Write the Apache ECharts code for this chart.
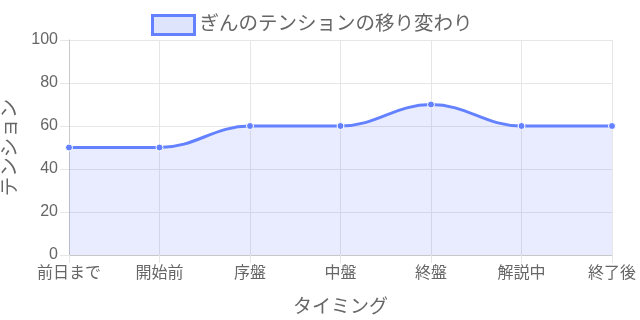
<!DOCTYPE html>
<html><head><meta charset="utf-8">
<script src="https://cdn.jsdelivr.net/npm/echarts@6/dist/echarts.min.js"></script>
<style>html,body{margin:0;padding:0;background:#fff}#c{width:640px;height:320px}</style>
</head><body><div id="c"></div>
<script>
const categories = ['前日まで','開始前','序盤','中盤','終盤','解説中','終了後'];
const tension = [50, 50, 60, 60, 70, 60, 60];
const seriesName = 'ぎんのテンションの移り変わり';
const yTicks = [0, 20, 40, 60, 80, 100];

const font = '"Liberation Sans", "Noto Sans CJK JP", Arial, sans-serif';
const chart = echarts.init(document.getElementById('c'), null, {renderer: 'canvas'});
chart.setOption({
  animation: false,
  textStyle: {fontFamily: font},
  legend: {
    top: 9, left: 146,
    itemWidth: 42, itemHeight: 19, itemGap: 10,
    textStyle: {fontSize: 19.5, color: '#666', fontFamily: font},
    data: [{name: seriesName, icon: 'rect', itemStyle: {color: '#dfe4fd', borderColor: '#6482ff', borderWidth: 3}}]
  },
  grid: {left: 69, right: 28, top: 40, bottom: 65, outerBoundsMode: 'none', containLabel: false},
  xAxis: {
    type: 'category', data: categories, boundaryGap: false,
    name: 'タイミング', nameLocation: 'middle', nameGap: 43,
    nameTextStyle: {fontSize: 19, color: '#666', fontFamily: font},
    axisLine: {show: true, lineStyle: {color: '#c8c8c8'}},
    axisTick: {show: true, length: 8, lineStyle: {color: '#e6e6e6'}},
    axisLabel: {fontSize: 16, color: '#666', margin: 11, fontFamily: font},
    splitLine: {show: true, lineStyle: {color: '#e6e6e6'}}
  },
  yAxis: {
    type: 'value', min: 0, max: 100, interval: 20,
    name: 'テンション', nameLocation: 'middle', nameGap: 49, nameRotate: 90,
    nameTextStyle: {fontSize: 19.5, color: '#666', fontFamily: font},
    axisLine: {show: true, lineStyle: {color: '#c8c8c8'}},
    axisTick: {show: true, length: 9, lineStyle: {color: '#e6e6e6'}},
    axisLabel: {fontSize: 16, color: '#666', margin: 11, fontFamily: font,
      formatter: v => yTicks.includes(v) ? String(v) : ''},
    splitLine: {show: true, lineStyle: {color: '#e6e6e6'}}
  },
  series: [{
    name: seriesName, type: 'line', data: tension, smooth: 0.4,
    symbol: 'circle', symbolSize: 7,
    itemStyle: {color: '#6482ff', borderColor: '#fff', borderWidth: 1},
    lineStyle: {color: '#6482ff', width: 3},
    areaStyle: {color: 'rgba(100,120,245,0.2)'}
  }]
});
</script></body></html>
